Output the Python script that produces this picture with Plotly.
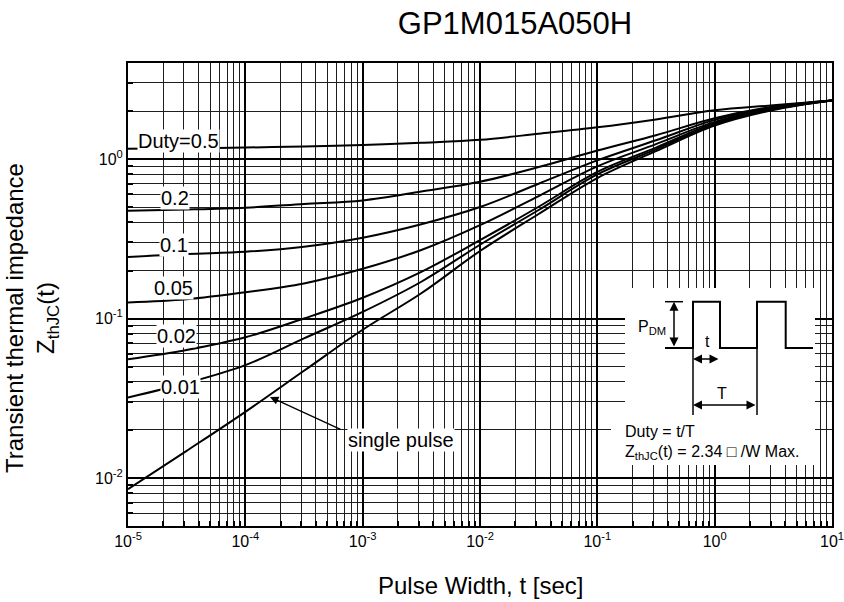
import plotly.graph_objects as go
import math

# ---------------- data ----------------
pulse_width = [1e-5, 3.16e-5, 1e-4, 3.16e-4, 1e-3, 3.16e-3, 1e-2, 3.16e-2, 1e-1, 3.16e-1, 1.0, 3.16, 10.0]
duty_labels = ["Duty=0.5", "0.2", "0.1", "0.05", "0.02", "0.01", "single pulse"]
z_d05 = [1.16, 1.17, 1.18, 1.20, 1.224, 1.265, 1.32, 1.44, 1.58, 1.77, 2.02, 2.17, 2.33]
z_d02 = [0.474, 0.482, 0.495, 0.522, 0.55, 0.625, 0.72, 0.89, 1.13, 1.41, 1.80, 2.13, 2.33]
z_d01 = [0.243, 0.254, 0.262, 0.282, 0.321, 0.39, 0.50, 0.70, 0.98, 1.31, 1.76, 2.11, 2.33]
z_d005 = [0.126, 0.132, 0.146, 0.166, 0.205, 0.269, 0.385, 0.586, 0.90, 1.24, 1.71, 2.09, 2.33]
z_d002 = [0.0555, 0.0635, 0.0762, 0.100, 0.135, 0.196, 0.31, 0.502, 0.83, 1.18, 1.68, 2.07, 2.33]
z_d001 = [0.032, 0.0394, 0.051, 0.075, 0.11, 0.17, 0.29, 0.479, 0.80, 1.15, 1.65, 2.05, 2.33]
z_single = [0.0085, 0.0148, 0.026, 0.047, 0.085, 0.144, 0.265, 0.452, 0.76, 1.12, 1.62, 2.03, 2.33]
series = [z_d05, z_d02, z_d01, z_d005, z_d002, z_d001, z_single]

x_tickvals = [1e-5, 1e-4, 1e-3, 1e-2, 1e-1, 1e0, 1e1]
x_ticktext = ["10<sup>-5</sup>", "10<sup>-4</sup>", "10<sup>-3</sup>", "10<sup>-2</sup>",
              "10<sup>-1</sup>", "10<sup>0</sup>", "10<sup>1</sup>"]
y_tickvals = [1e-2, 1e-1, 1e0]
y_ticktext = ["10<sup>-2</sup>", "10<sup>-1</sup>", "10<sup>0</sup>"]
x_range = [1e-5, 10.0]
y_range = [0.005, 4.0]

FONT = "Liberation Sans, Arial, sans-serif"
W, H = 844, 602
ML, MR, MT, MB = 128, 12, 63, 76
PW, PH = W - ML - MR, H - MT - MB

def minor_vals(lo_exp, hi_exp):
    out = []
    for e in range(lo_exp, hi_exp + 1):
        for d in range(2, 10):
            out.append(d * 10.0 ** e)
    return out

# pixel -> paper / data-log helpers for layout positioning
def ppx(px):
    return (px - ML) / PW

def ppy(py):
    return (H - MB - py) / PH

lx0, lx1 = math.log10(x_range[0]), math.log10(x_range[1])
ly0, ly1 = math.log10(y_range[0]), math.log10(y_range[1])

def lx(px):
    return lx0 + (px - ML) / PW * (lx1 - lx0)

def ly(py):
    return ly0 + (H - MB - py) / PH * (ly1 - ly0)

fig = go.Figure()
for name, z in zip(duty_labels, series):
    fig.add_trace(go.Scatter(x=pulse_width, y=z, mode="lines", name=name,
                             line=dict(color="black", width=2, shape="spline", smoothing=1.0),
                             showlegend=False))

axis_common = dict(
    type="log", showline=True, linecolor="black", linewidth=2, mirror=True,
    showgrid=True, gridcolor="black", gridwidth=1.6,
    ticks="inside", ticklen=5, tickcolor="black", tickwidth=1.5,
    tickfont=dict(family=FONT, size=16, color="black"),
    zeroline=False, tickmode="array", automargin=False, ticklabeloverflow="allow",
)

fig.update_xaxes(range=[lx0, lx1], tickvals=x_tickvals, ticktext=x_ticktext,
                 minor=dict(tickmode="array", tickvals=minor_vals(-5, 0), showgrid=True,
                            gridcolor="#1e1e1e", gridwidth=1, ticks="inside", ticklen=5,
                            tickcolor="black"),
                 **axis_common)
fig.update_yaxes(range=[ly0, ly1], tickvals=y_tickvals, ticktext=y_ticktext,
                 minor=dict(tickmode="array", tickvals=minor_vals(-3, 0), showgrid=True,
                            gridcolor="#1e1e1e", gridwidth=1, ticks="inside", ticklen=5,
                            tickcolor="black"),
                 **axis_common)

shapes = []
# white inset background (covers grid lines)
for (x0, y0, x1, y1) in [(625, 288, 815, 420), (611, 420, 815, 465)]:
    shapes.append(dict(type="rect", xref="paper", yref="paper", x0=ppx(x0), x1=ppx(x1),
                       y0=ppy(y1), y1=ppy(y0), fillcolor="white", line=dict(width=0), layer="above"))
# pulse train
wave = [(665, 348), (693, 348), (693, 301.7), (720, 301.7), (720, 348), (757, 348), (757, 301.7),
        (785.7, 301.7), (785.7, 348), (813, 348)]
path = "M " + " L ".join(f"{ppx(a):.5f},{ppy(b):.5f}" for a, b in wave)
shapes.append(dict(type="path", xref="paper", yref="paper", path=path,
                   line=dict(color="black", width=2), layer="above"))
for (a, b, c, d) in [(693, 348, 693, 415), (757, 348, 757, 415), (665, 301.7, 683, 301.7)]:
    shapes.append(dict(type="line", xref="paper", yref="paper", x0=ppx(a), y0=ppy(b), x1=ppx(c),
                       y1=ppy(d), line=dict(color="black", width=1.5), layer="above"))

annotations = []
# curve labels
label_pos = {"Duty=0.5": (178, 141), "0.2": (175, 198), "0.1": (174, 245), "0.05": (173, 288),
             "0.02": (176, 336), "0.01": (180, 387), "single pulse": (401, 440)}
for name, (px, py) in label_pos.items():
    annotations.append(dict(x=lx(px), y=ly(py), xref="x", yref="y", text=name, showarrow=False,
                            bgcolor="white", borderpad=0,
                            font=dict(family=FONT, size=20, color="black")))
# single pulse arrow
annotations.append(dict(x=lx(270), y=ly(397), xref="x", yref="y", text="", showarrow=True,
                        ax=72, ay=33, arrowhead=2, arrowsize=1.3, arrowwidth=1.3, arrowcolor="black"))
# inset double arrows
for (x1, y1, x2, y2) in [(674, 301.7, 674, 348), (693, 359, 720, 359), (693, 405, 757, 405)]:
    annotations.append(dict(x=ppx(x1), y=ppy(y1), xref="paper", yref="paper", text="",
                            showarrow=True, ax=x2 - x1, ay=y2 - y1, arrowside="end+start",
                            arrowhead=2, arrowsize=1.2, arrowwidth=1.5, arrowcolor="black"))
# inset texts
inset_txt = [("P<sub>DM</sub>", 668, 328, "right"), ("t", 707, 341, "center"),
             ("T", 722, 393, "center"), ("Duty = t/T", 623, 431, "left"),
             ("Z<sub>thJC</sub>(t) = 2.34 \u25a1 /W Max.", 623, 452, "left")]
for txt, px, py, anc in inset_txt:
    annotations.append(dict(x=ppx(px), y=ppy(py), xref="paper", yref="paper", text=txt,
                            showarrow=False, xanchor=anc, yanchor="middle",
                            font=dict(family=FONT, size=16, color="black")))
# axis titles
annotations.append(dict(x=ppx(480), y=ppy(585), xref="paper", yref="paper",
                        text="Pulse Width, t [sec]", showarrow=False, yanchor="middle",
                        font=dict(family=FONT, size=24, color="black")))
annotations.append(dict(x=ppx(32), y=ppy(318), xref="paper", yref="paper",
                        text="Transient thermal impedance<br>Z<sub>thJC</sub>(t)", showarrow=False,
                        textangle=-90, xanchor="center", yanchor="middle",
                        font=dict(family=FONT, size=24, color="black")))

fig.update_layout(
    width=W, height=H, autosize=False,
    margin=dict(l=ML, r=MR, t=MT, b=MB, autoexpand=False),
    paper_bgcolor="white", plot_bgcolor="white",
    title=dict(text="GP1M015A050H", x=515 / W, xanchor="center", y=1 - 23 / H, yanchor="middle",
               xref="container", yref="container",
               font=dict(family=FONT, size=31, color="black")),
    shapes=shapes, annotations=annotations,
)

fig.write_html("out.html")
